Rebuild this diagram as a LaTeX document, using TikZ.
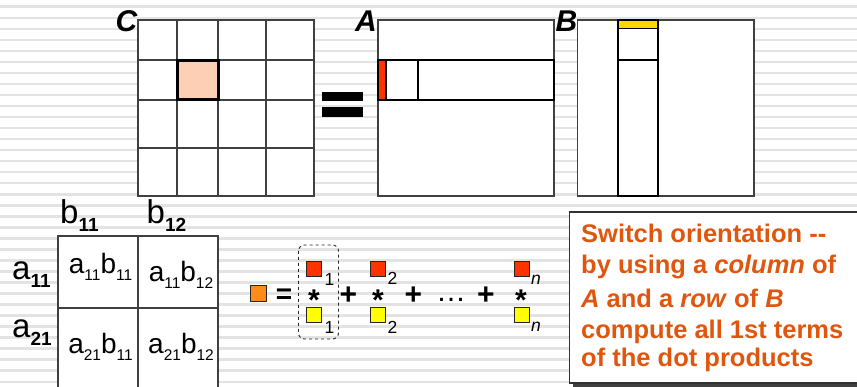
\documentclass[tikz,border=0pt]{standalone}
\usepackage{fontspec}
\setmainfont{Liberation Sans}
\usetikzlibrary{shadows}

\definecolor{stripe}{HTML}{E3E3E3}
\definecolor{frame}{HTML}{404040}
\definecolor{peach}{HTML}{FDD0B5}
\definecolor{redcell}{HTML}{FF3300}
\definecolor{goldcell}{HTML}{FFD500}
\definecolor{orangecell}{HTML}{FF8C1A}
\definecolor{yellowcell}{HTML}{FFFF00}
\definecolor{note}{HTML}{E0560E}

% lowered subscript: #1 drop, #2 size, #3 text
\newcommand\lowsub[3]{\raisebox{-#1pt}{\fontsize{#2}{#2}\selectfont #3}}
\newcommand\lsub[1]{\lowsub{8}{19}{\bfseries #1}}
\newcommand\csub[1]{\lowsub{7}{15.5}{#1}}

\tikzset{
  frame/.style={draw=frame, line width=1.6pt},
  sel/.style={draw=black, line width=1.6pt},
  mlabel/.style={font=\fontsize{30}{30}\selectfont\bfseries\itshape, inner sep=0, anchor=base east},
  tlabel/.style={font=\fontsize{33}{33}\selectfont, inner sep=0, anchor=base west},
  celltext/.style={font=\fontsize{28}{28}\selectfont, inner sep=0, anchor=base},
  chip/.style={draw=black!85, line width=0.8pt, minimum size=15pt, inner sep=0},
  idx/.style={font=\fontsize{17.5}{17.5}\selectfont, inner sep=0, anchor=base west},
  op/.style={inner sep=0, anchor=base},
  notetext/.style={font=\fontsize{25.5}{25.5}\selectfont\bfseries, text=note, inner sep=0, anchor=base west}
}

\begin{document}
\begin{tikzpicture}[x=1pt,y=-1pt]
\useasboundingbox (0,0) rectangle (857,387);

% ruled background
\fill[white] (0,0) rectangle (857,387);
\foreach \k in {0,...,34}
  \fill[stripe] (0,{5.5+11.03*\k}) rectangle (857,{8+11.03*\k});

% ---- matrix C ----
\fill[white] (138,20) rectangle (314,196);
\foreach \x in {177,218,266} \draw[frame] (\x,20) -- (\x,196);
\foreach \y in {60,100,148} \draw[frame] (138,\y) -- (314,\y);
\draw[frame] (138,20) rectangle (314,196);
\draw[line width=3pt, fill=peach] (177.5,60.5) rectangle (218,100);
\node[mlabel] (labC) at (137.5,31.5) {C};

% equals sign
\fill[black] (322,92) rectangle (363,101);
\fill[black] (322,107.5) rectangle (363,117);

% ---- matrix A ----
\fill[white] (378,20) rectangle (554,196);
\draw[frame] (378,20) rectangle (554,196);
\fill[redcell] (378,60) rectangle (386,100);
\draw[sel] (386,60) -- (386,100);
\draw[sel] (418,60) -- (418,100);
\draw[sel] (378,60) rectangle (554,100);
\node[mlabel] (labA) at (377,31.5) {A};

% ---- matrix B ----
\fill[white] (577.5,20) rectangle (754,196);
\draw[frame] (577.5,20) rectangle (754,196);
\fill[goldcell] (618,20) rectangle (658,28.5);
\draw[sel] (618,28.5) -- (658,28.5);
\draw[sel] (618,60) -- (658,60);
\draw[sel] (618,20) rectangle (658,196);
\node[mlabel] (labB) at (577.5,31.5) {B};

% ---- outer-product table ----
\fill[white] (58,236) rectangle (218,387);
\draw[frame] (58,387) -- (58,236) -- (218,236) -- (218,387);
\draw[frame] (138,236) -- (138,387);
\draw[frame] (58,308) -- (218,308);

\node[tlabel] (b11) at (60,223.3) {b\lsub{11}};
\node[tlabel] (b12) at (146.5,223.3) {b\lsub{12}};
\node[tlabel] (a11) at (12,280) {a\lsub{11}};
\node[tlabel] (a21) at (12,337.7) {a\lsub{21}};

\node[celltext] (c11) at (100.5,273.5) {a\csub{11}b\csub{11}};
\node[celltext] (c12) at (181,281.7) {a\csub{11}b\csub{12}};
\node[celltext] (c21) at (100.5,353.3) {a\csub{21}b\csub{11}};
\node[celltext] (c22) at (181,353.3) {a\csub{21}b\csub{12}};

% ---- sum of first terms ----
\node[chip, minimum size=16pt, fill=orangecell] (res) at (258,293) {};
\node[op, font=\fontsize{28}{28}\selectfont\bfseries] (eq) at (284,303.5) {=};

\draw[dashed, rounded corners=6pt, draw=black!85, line width=0.9pt]
  (298.5,245) rectangle (338.5,339);

\node[chip, fill=redcell] (r1) at (313.5,268.5) {};
\node[chip, fill=yellowcell] (y1) at (313.5,315) {};
\node[chip, fill=redcell] (r2) at (378,268.5) {};
\node[chip, fill=yellowcell] (y2) at (378,315) {};
\node[chip, fill=redcell] (rn) at (522,268.5) {};
\node[chip, fill=yellowcell] (yn) at (522,315) {};

\node[idx] (i1) at (324.5,285.7) {1};
\node[idx] (j1) at (324.5,333.3) {1};
\node[idx] (i2) at (387.5,285) {2};
\node[idx] (j2) at (387.5,333.3) {2};
\node[idx, font=\fontsize{17.5}{17.5}\selectfont\itshape] (in) at (531,285) {n};
\node[idx, font=\fontsize{17.5}{17.5}\selectfont\itshape] (jn) at (531,331.7) {n};

\node[op, font=\fontsize{30}{30}\selectfont\bfseries] (m1) at (314,311) {*};
\node[op, font=\fontsize{30}{30}\selectfont\bfseries] (m2) at (378,311) {*};
\node[op, font=\fontsize{30}{30}\selectfont\bfseries] (mn) at (521,311) {*};

\node[op, font=\fontsize{30}{30}\selectfont\bfseries] (p1) at (348.5,305) {+};
\node[op, font=\fontsize{30}{30}\selectfont\bfseries] (p2) at (413.5,305) {+};
\node[op, font=\fontsize{30}{30}\selectfont] (dots) at (451,302) {…};
\node[op, font=\fontsize{30}{30}\selectfont\bfseries] (p3) at (486,305) {+};

% ---- note ----
\fill[black, opacity=0.75] (573,216) rectangle (874,387.5);
\draw[fill=white, draw=black!80, line width=1.2pt] (569.5,212) rectangle (870,383);
\node[notetext] (n1) at (581,242.7) {Switch orientation -{}-};
\node[notetext] (n2) at (581,274) {by using a \textit{column} of};
\node[notetext] (n3) at (581,307.3) {\textit{A} and a \textit{row} of \textit{B}};
\node[notetext] (n4) at (581,338.3) {compute all 1st terms};
\node[notetext] (n5) at (581,366.7) {of the dot products};
\end{tikzpicture}
\end{document}
